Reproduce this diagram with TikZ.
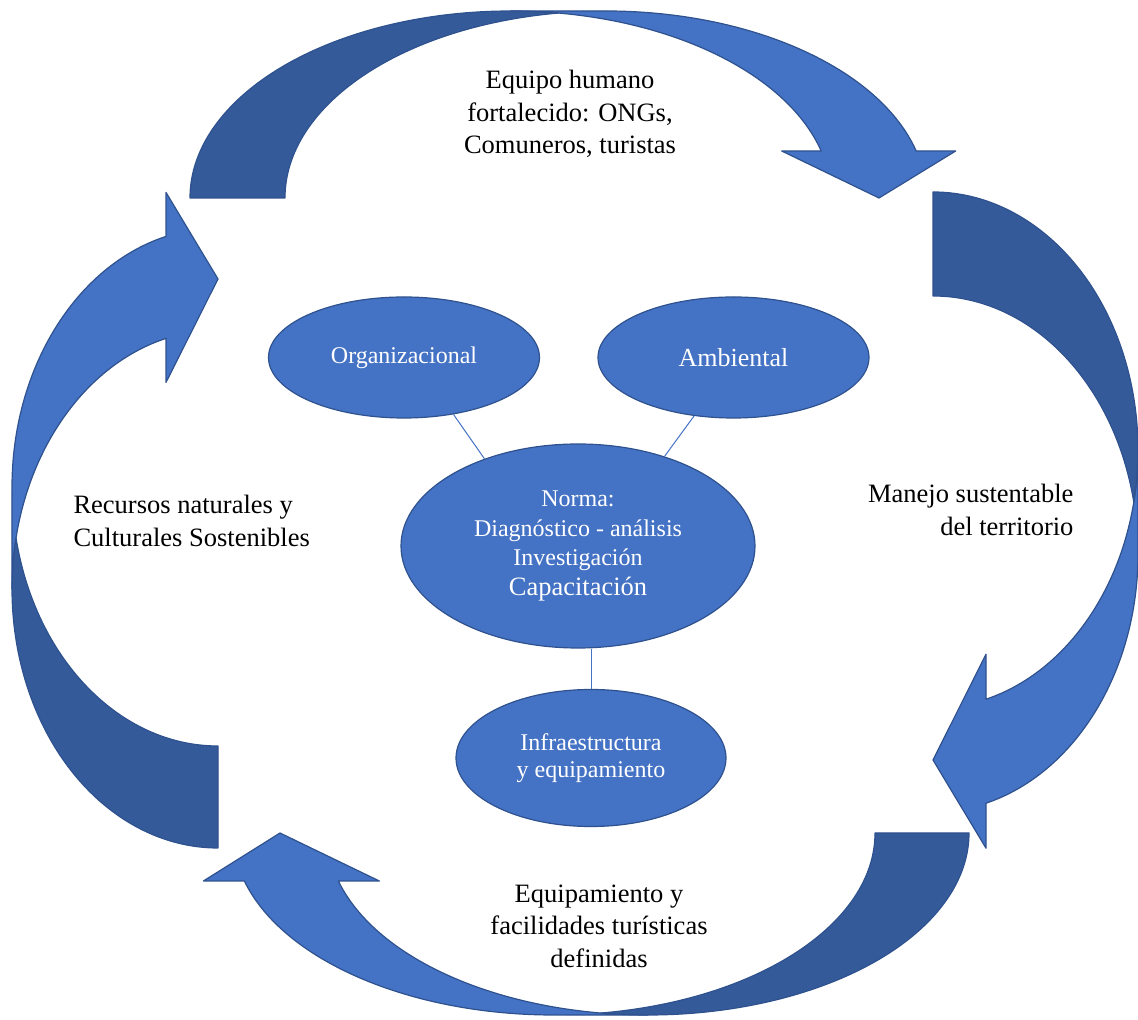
\documentclass[tikz,border=0pt]{standalone}
\usepackage{fontspec}
\setmainfont{Liberation Serif}
\usepackage{tikz}
\usetikzlibrary{shapes.geometric,positioning}

\definecolor{ribbonlight}{HTML}{4472C4}
\definecolor{ribbondark}{RGB}{52,90,154}
\definecolor{ribbonedge}{HTML}{2F528F}

% #1 origin, #2 rotation, #3 half width, #4 height, #5 band, #6 head length, #7 barb
\newcommand{\cyclearrow}[7]{%
  \begin{scope}[shift={#1},rotate=#2]
    \pgfmathsetmacro{\angA}{asin(#6/#4)}
    \pgfmathsetmacro{\dxA}{#3*cos(\angA)}
    \pgfmathsetmacro{\angC}{acos(#5/(2*#3))}
    \draw [front] (2*#3+#5/2,0) -- (#3+\dxA-#7,#6) -- (#3+\dxA,#6)
      arc [start angle=\angA,end angle=90,x radius=#3,y radius=#4]
      -- (#3+#5,#4)
      arc [start angle=90,end angle=\angA,x radius=#3,y radius=#4]
      -- (#3+#5+\dxA+#7,#6) -- cycle;
    \draw [back] (0,0)
      arc [start angle=180,end angle=\angC,x radius=#3,y radius=#4]
      arc [start angle=180-\angC,end angle=180,x radius=#3,y radius=#4]
      -- cycle;
  \end{scope}}

\begin{document}
\begin{tikzpicture}[x=1pt,y=1pt,
    front/.style={fill=ribbonlight,draw=ribbonedge,line width=1.2pt,line join=round},
    back/.style={fill=ribbondark,draw=ribbonedge,line width=1.2pt,line join=round},
    blob/.style={ellipse,fill=ribbonlight,draw=ribbonedge,line width=1.2pt,
                 inner sep=0pt,text=white,align=center},
    link/.style={ribbonlight,line width=1pt},
    lbl/.style={font=\fontsize{26.5}{32.5}\selectfont}]

  \useasboundingbox (0,0) rectangle (1138,1020);

  \cyclearrow{(190,822)}{0}{320.75}{187}{95}{47}{39.5}
  \cyclearrow{(933,828)}{-90}{258}{205}{104}{53}{45}
  \cyclearrow{(969,187)}{180}{321}{182}{94}{48}{41}
  \cyclearrow{(218,172)}{90}{259}{206}{102}{52}{44}

  \node (lblTop) [lbl,align=center] at (570,906) {Equipo humano \\
    fortalecido: ONGs, \\ Comuneros, turistas};
  \node (lblRight) [lbl,align=right,anchor=east] at (1077,510)
        {Manejo sustentable \\ del territorio};
  \node (lblLeft) [lbl,align=left,anchor=west] at (70,499)
        {Recursos naturales y \\ Culturales Sostenibles};
  \node (lblBottom) [lbl,align=center] at (599,94) {Equipamiento y \\
    facilidades turísticas \\ definidas};

  \node (org) [blob,minimum width=271,minimum height=121,
               font=\fontsize{24}{28}\selectfont] at (404,662.5) {Organizacional};
  \node (amb) [blob,minimum width=271,minimum height=121,
               font=\fontsize{26}{30}\selectfont] at (733.5,662.5) {Ambiental};
  \node (norma) [blob,minimum width=354,minimum height=204,
                 font=\fontsize{24}{29.5}\selectfont] at (578,474)
        {Norma: \\ Diagnóstico - análisis \\ Investigación \\
         {\fontsize{26.5}{30}\selectfont Capacitación}};
  \node (infra) [blob,minimum width=270,minimum height=137,
                 font=\fontsize{24}{27}\selectfont] at (591,262)
        {Infraestructura \\ y equipamiento};

  \draw [link] (org.-49) -- (norma.137);
  \draw [link] (amb.-124) -- (norma.46);
  \draw [link] (infra.north) -- (infra.north |- norma.south);

\end{tikzpicture}
\end{document}
